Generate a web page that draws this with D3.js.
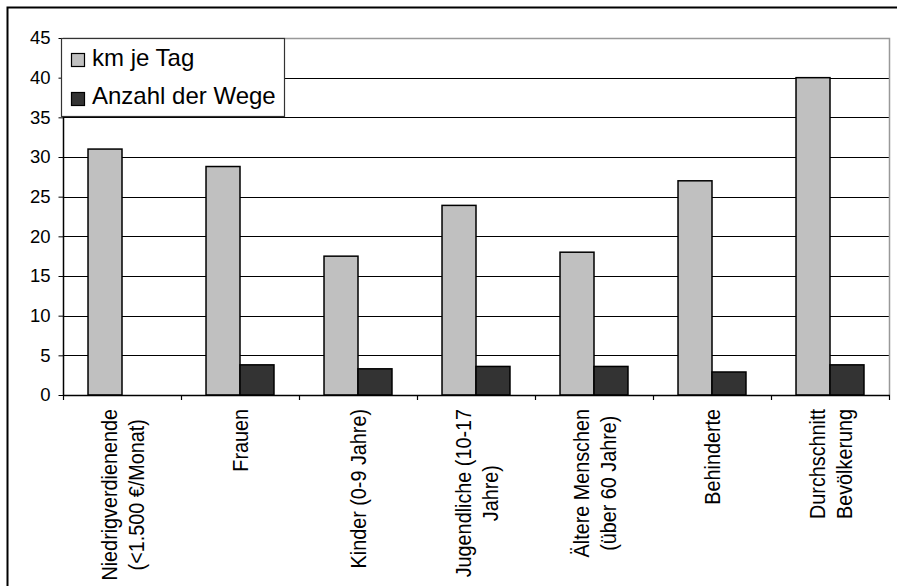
<!DOCTYPE html>
<html><head><meta charset="utf-8">
<script src="https://cdn.jsdelivr.net/npm/d3@7"></script>
<style>body{margin:0;background:#fff}svg{display:block}text{font-family:"Liberation Sans",Arial,sans-serif;fill:#000}</style>
</head><body>
<svg id="c" width="897" height="586"></svg>
<script>
const categories = [
  ["Niedrigverdienende","(<1.500 €/Monat)"],
  ["Frauen"],
  ["Kinder (0-9 Jahre)"],
  ["Jugendliche (10-17","Jahre)"],
  ["Ältere Menschen","(über 60 Jahre)"],
  ["Behinderte"],
  ["Durchschnitt","Bevölkerung"]
];
const seriesNames = ["km je Tag","Anzahl der Wege"];
const kmJeTag = [31, 28.8, 17.5, 23.9, 18, 27, 40];
const anzahlWege = [0, 3.8, 3.3, 3.6, 3.6, 2.9, 3.8];
const yTicks = [0,5,10,15,20,25,30,35,40,45];
const colors = ["#c0c0c0","#333333"];

const svg = d3.select("#c");
const L=63, R=889, T=38, B=395;
const keys = categories.map(c=>c.join(" "));
const x0 = d3.scaleBand().domain(keys).range([L,R]);
const bw = x0.bandwidth();
const x1 = d3.scaleBand().domain(seriesNames).range([bw*0.212, bw*0.788]);
const y = d3.scaleLinear().domain([0,45]).range([B,T]);

// outer border
svg.append("rect").attr("x",7.5).attr("y",7.5).attr("width",920).attr("height",620)
  .attr("fill","none").attr("stroke","#000").attr("stroke-width",2);

// gridlines
svg.append("g").selectAll("line").data(yTicks.filter(v=>v>0 && v<45)).join("line")
  .attr("x1",L).attr("x2",R).attr("y1",d=>Math.round(y(d))+0.5).attr("y2",d=>Math.round(y(d))+0.5)
  .attr("stroke","#000").attr("stroke-width",1);
// plot border top/right
svg.append("path").attr("d",`M${L},${T+0.5}H${R+0.5}V${B}`).attr("fill","none").attr("stroke","#999").attr("stroke-width",1.5);

// bars
const data = [kmJeTag, anzahlWege];
const g = svg.append("g");
keys.forEach((k,i)=>{
  seriesNames.forEach((s,j)=>{
    const v = data[j][i];
    if(!v) return;
    g.append("rect").attr("x",x0(k)+x1(s)).attr("y",y(v)).attr("width",x1.bandwidth()).attr("height",B-y(v))
      .attr("fill",colors[j]).attr("stroke","#000").attr("stroke-width",1.5);
  });
});

// y axis
const yAxis = svg.append("g").attr("transform",`translate(${L+0.5},0)`)
  .call(d3.axisLeft(y).tickValues(yTicks).tickSize(5).tickPadding(8));
yAxis.select(".domain").attr("d",`M0,${T}V${B}`).attr("stroke","#000").attr("stroke-width",1.5);
yAxis.selectAll(".tick line").attr("stroke","#000");
yAxis.selectAll(".tick text").attr("font-size","18.5px").style("font-family",'"Liberation Sans",Arial,sans-serif');

// x axis
svg.append("line").attr("x1",L).attr("x2",R+1).attr("y1",B+0.5).attr("y2",B+0.5).attr("stroke","#000").attr("stroke-width",1.5);
const bounds = keys.map(k=>x0(k)).concat([R]);
svg.append("g").selectAll("line").data(bounds).join("line")
  .attr("x1",d=>Math.round(d)+0.5).attr("x2",d=>Math.round(d)+0.5).attr("y1",B).attr("y2",B+5).attr("stroke","#000").attr("stroke-width",1.2);

// x labels
const lineSp = 27, sx = 1.1, topY = 409;
categories.forEach((lines,i)=>{
  const cx = x0(keys[i]) + bw/2;
  const texts = lines.map((ln,li)=>{
    const bx = cx + 8 + (li - (lines.length-1)/2)*lineSp;
    return {bx, t: svg.append("text").attr("text-anchor","middle").attr("font-size","19.8px").text(ln)};
  });
  const maxLen = d3.max(texts, o=>o.t.node().getComputedTextLength());
  const cy = topY + maxLen/2;
  texts.forEach(o=>o.t.attr("transform",`translate(${o.bx},${cy}) rotate(-90) scale(1,${sx})`));
});

// legend
const lg = svg.append("g");
lg.append("rect").attr("x",61.5).attr("y",38.5).attr("width",223).attr("height",78)
  .attr("fill","#fff").attr("stroke","#333").attr("stroke-width",1.2);
seriesNames.forEach((s,j)=>{
  const yy = [53,92][j];
  lg.append("rect").attr("x",71.5).attr("y",yy+0.5).attr("width",13).attr("height",13)
    .attr("fill",colors[j]).attr("stroke","#000").attr("stroke-width",1.2);
  lg.append("text").attr("x",92).attr("y",[66,104][j]).attr("font-size","24px").text(s);
});
</script>
</body></html>
